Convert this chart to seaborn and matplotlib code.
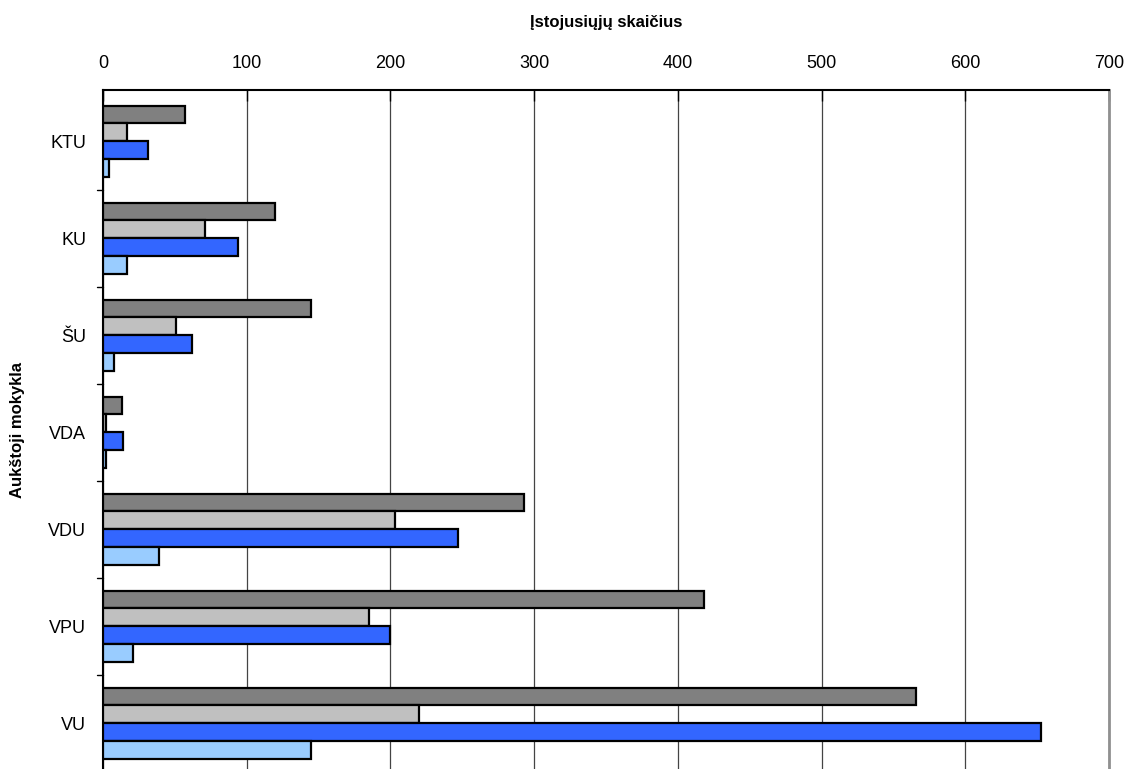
import matplotlib
matplotlib.use("Agg")
import matplotlib.pyplot as plt
import seaborn as sns
import pandas as pd

categories = ["KTU", "KU", "ŠU", "VDA", "VDU", "VPU", "VU"]
series_names = ["S1", "S2", "S3", "S4"]
s1 = [57, 120, 145, 13, 293, 418, 566]
s2 = [17, 71, 51, 2, 203, 185, 220]
s3 = [31, 94, 62, 14, 247, 200, 653]
s4 = [4, 17, 8, 2, 39, 21, 145]
colors = ["#808080", "#C0C0C0", "#3366FF", "#99CCFF"]
x_ticks = [0, 100, 200, 300, 400, 500, 600, 700]

rows = []
for name, vals in zip(series_names, [s1, s2, s3, s4]):
    for c, v in zip(categories, vals):
        rows.append({"cat": c, "series": name, "val": v})
df = pd.DataFrame(rows)

sns.set_style("white")
plt.rcParams["font.family"] = ["Liberation Sans", "DejaVu Sans"]
plt.rcParams["text.color"] = "black"
plt.rcParams["axes.labelcolor"] = "black"
plt.rcParams["xtick.color"] = "black"
plt.rcParams["ytick.color"] = "black"

fig = plt.figure(figsize=(11.29, 7.69), dpi=100)
ax = fig.add_axes([103 / 1129, 0.0, (1109 - 103) / 1129, 1 - 90 / 769])

sns.barplot(data=df, y="cat", x="val", hue="series", order=categories,
            hue_order=series_names, palette=colors, orient="h", width=0.74,
            edgecolor="black", linewidth=1.6, legend=False, ax=ax, zorder=3,
            errorbar=None, saturation=1)

ax.set_xlim(0, 700)
ax.set_ylim(6.47, -0.53)
ax.xaxis.tick_top()
ax.xaxis.set_label_position("top")
ax.set_xticks(x_ticks)
ax.set_xticklabels([str(t) for t in x_ticks], fontsize=13)
ax.set_xlabel("Įstojusiųjų skaičius", fontsize=12, fontweight="bold", labelpad=20)
ax.set_ylabel("Aukštoji mokykla", fontsize=12, fontweight="bold", labelpad=17)
ax.tick_params(axis="x", direction="in", length=8, width=1, pad=13)

ax.set_yticks(range(len(categories)))
ax.set_yticklabels(categories, fontsize=13)
ax.tick_params(axis="y", length=0, pad=12)
for b in [i + 0.5 for i in range(len(categories) - 1)]:
    ax.plot([-0.006, 0], [b, b], transform=ax.get_yaxis_transform(),
            color="black", lw=1, clip_on=False)

ax.grid(axis="x", color="#444444", linewidth=0.9, zorder=0)
ax.set_axisbelow(True)
for s in ["top", "left"]:
    ax.spines[s].set_color("black")
    ax.spines[s].set_linewidth(1.5)
ax.spines["right"].set_color("#909090")
ax.spines["right"].set_linewidth(2)
ax.spines["bottom"].set_visible(False)

fig.savefig("out.png", dpi=100)
